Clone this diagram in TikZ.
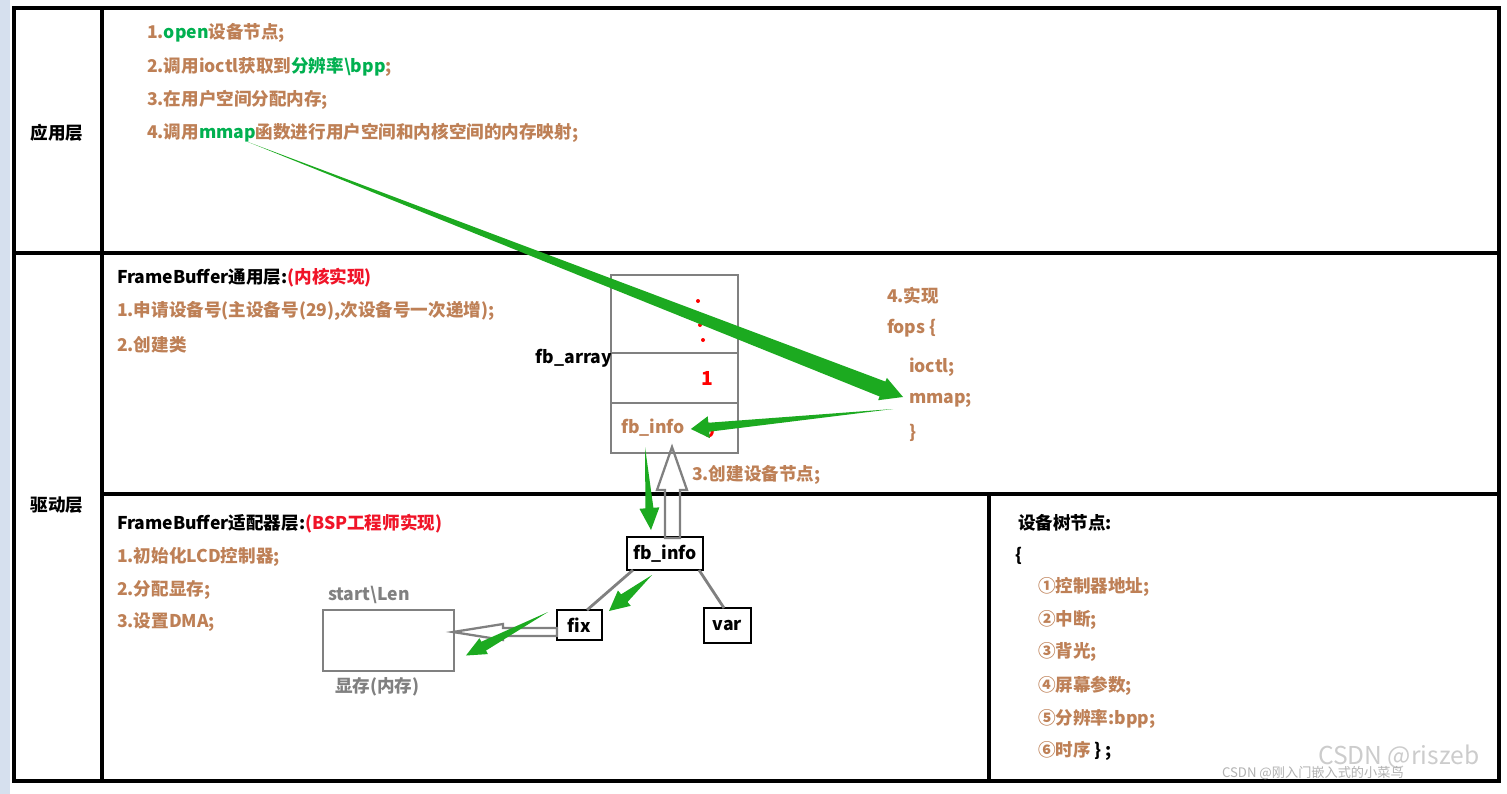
\documentclass[tikz,border=0pt]{standalone}
\usepackage{fontspec}
\setmainfont{Noto Sans CJK SC}
\usetikzlibrary{calc,positioning}

\definecolor{notebrown}{RGB}{190,128,86}
\definecolor{keygreen}{RGB}{0,176,80}
\definecolor{arrowgreen}{RGB}{28,170,32}
\definecolor{edgegray}{RGB}{128,128,128}
\definecolor{sidestrip}{RGB}{214,224,238}
\definecolor{hotred}{RGB}{240,20,40}

\newcommand\wedgearrow[5]{%
  \path ($(#2)!#3!(#1)$) coordinate (wedgebase);
  \fill[arrowgreen] (#1) -- ($(wedgebase)!#5!90:(#2)$) -- ($(wedgebase)!#4!90:(#2)$)
    -- (#2) -- ($(wedgebase)!#4!-90:(#2)$) -- ($(wedgebase)!#5!-90:(#2)$) -- cycle;}

\begin{document}
\begin{tikzpicture}[x=0.02cm, y=-0.02cm,
                    every node/.style={font=\bfseries\fontsize{10}{12}\selectfont, inner sep=0pt, outer sep=0pt},
                    note text/.style={anchor=west, text=notebrown},
                    black text/.style={anchor=west, text=black},
                    gray text/.style={anchor=west, text=edgegray},
                    frame line/.style={line width=2.3pt, line cap=rect},
                    cell box/.style={draw=edgegray, line width=0.6pt, minimum width=2.54cm},
                    info box/.style={draw=black, line width=0.8pt},
                    link line/.style={draw=edgegray, line width=1.6pt},
                    hollow arrow/.style={draw=edgegray, line width=1.3pt, line join=miter}]

  \useasboundingbox (0,0) rectangle (1507,794);
  \fill[white] (0,0) rectangle (1507,794);
  \fill[sidestrip] (0,0) rectangle (10,794);

  \draw[frame line] (14,8) rectangle (1499,781);
  \draw[frame line] (102,8) -- (102,781);
  \draw[frame line] (14,253) -- (1499,253);
  \draw[frame line] (102,494) -- (1499,494);
  \draw[frame line] (989,494) -- (989,781);

  \node (appLayer) at (57,133) {应用层};
  \node (drvLayer) at (57,505) {驱动层};

  \node[note text] (appA) at (147,33) {1.\textcolor{keygreen}{open}设备节点;};
  \node[note text] (appB) at (147,67) {2.调用ioctl获取到\textcolor{keygreen}{分辨率\textbackslash bpp};};
  \node[note text] (appC) at (147,100) {3.在用户空间分配内存;};
  \node[note text] (appD) at (147,133) {4.调用\textcolor{keygreen}{mmap}函数进行用户空间和内核空间的内存映射;};

  \node[black text] (coreHead) at (117,278) {FrameBuffer通用层:\textcolor{hotred}{(内核实现)}};
  \node[note text] (coreA) at (117,311) {1.申请设备号(主设备号(29),次设备号一次递增);};
  \node[note text] (coreB) at (117,345) {2.创建类};

  \node[cell box, minimum height=1.56cm] (cellTop) at (674.5,314) {};
  \node[cell box, minimum height=1cm, below=0pt of cellTop] (cellMid) {};
  \node[cell box, minimum height=1cm, below=0pt of cellMid] (cellLow) {};
  \node[black text, anchor=east] (arrayName) at (612,358) {fb\_array};
  \fill[red] (698,301) circle (0.04cm);
  \fill[red] (700,325) circle (0.04cm);
  \fill[red] (703,340) circle (0.04cm);
  \node[text=red, font=\bfseries\fontsize{11}{13}\selectfont] (slotOne) at (707,378) {1};
  \node[text=red, font=\bfseries\fontsize{11}{13}\selectfont] (slotZero) at (709,430) {0};
  \node[text=notebrown] (arrayInfo) at (653,428) {fb\_info};

  \node[note text] (fopsHead) at (887,296) {4.实现};
  \node[note text] (fopsOpen) at (887,328) {fops \{};
  \node[note text] (fopsIoctl) at (909,367) {ioctl;};
  \node[note text] (fopsMmap) at (909,400) {mmap;};
  \node[note text] (fopsClose) at (909,433) {\}};

  \node[note text] (nodeStep) at (692,475) {3.创建设备节点;};

  \node[black text] (bspHead) at (117,524) {FrameBuffer适配器层:\textcolor{hotred}{(BSP工程师实现)}};
  \node[note text] (bspA) at (117,557) {1.初始化LCD控制器;};
  \node[note text] (bspB) at (117,590) {2.分配显存;};
  \node[note text] (bspC) at (117,622) {3.设置DMA;};

  \node[info box, minimum width=1.52cm, minimum height=0.66cm] (infoBox) at (665,553.5) {fb\_info};
  \node[info box, minimum width=0.9cm, minimum height=0.6cm] (fixBox) at (579.5,625) {fix};
  \node[info box, minimum width=0.94cm, minimum height=0.7cm] (varBox) at (727.5,625.5) {var};

  \node[cell box, minimum width=2.62cm, minimum height=1.22cm] (vram) at (388.5,640.5) {};
  \node[gray text] (vramTop) at (328,595) {start\textbackslash Len};
  \node[gray text] (vramName) at (335,687) {显存(内存)};

  \node[black text] (treeHead) at (1018,523) {设备树节点:};
  \node[black text] (treeOpen) at (1015,556) {\{};
  \node[note text] (treeA) at (1038,587) {①控制器地址;};
  \node[note text] (treeB) at (1038,620) {②中断;};
  \node[note text] (treeC) at (1038,652) {③背光;};
  \node[note text] (treeD) at (1038,686) {④屏幕参数;};
  \node[note text] (treeE) at (1038,719) {⑤分辨率:bpp;};
  \node[note text] (treeF) at (1038,751) {⑥时序\textcolor{black}{\ \} ;}};

  \draw[link line] ([xshift=0.12cm]infoBox.south west) -- ([xshift=0.6cm]fixBox.north west);
  \draw[link line] ([xshift=-0.08cm]infoBox.south east) -- ([xshift=0.4cm]varBox.north west);

  \draw[hollow arrow] ($(infoBox.north)+(0,1)$) -- ++(0,-48) -- ++(-8,0) -- ++(15,-43)
        -- ++(15,43) -- ++(-7,0) -- ++(0,48) -- cycle;
  \draw[hollow arrow] ($(fixBox.west)+(0,3)$) -- ++(-54,0) -- ++(0,-4) -- ++(-50,8)
        -- ++(50,8) -- ++(0,-4) -- ++(54,0) -- cycle;

  \coordinate (mmapTail) at (248,142);
  \coordinate (mmapTip) at ($(fopsMmap.west)+(-6,-3)$);
  \coordinate (fopsTail) at (893,409);
  \coordinate (arrayTip) at ($(arrayInfo.east)+(6,1)$);
  \coordinate (arrayTail) at (645,447);
  \coordinate (boxTip) at ($(infoBox.north)+(-14,-7)$);
  \coordinate (infoTail) at (652,575);
  \coordinate (fixTip) at (609,611);
  \coordinate (fixTail) at (548,612);
  \coordinate (vramTip) at ($(vram.east)+(12,15)$);

  \wedgearrow{mmapTail}{mmapTip}{0.44cm}{0.24cm}{0.16cm}
  \wedgearrow{fopsTail}{arrayTip}{0.36cm}{0.22cm}{0.09cm}
  \wedgearrow{arrayTail}{boxTip}{0.44cm}{0.2cm}{0.08cm}
  \wedgearrow{infoTail}{fixTip}{0.4cm}{0.2cm}{0.1cm}
  \wedgearrow{fixTail}{vramTip}{0.4cm}{0.18cm}{0.1cm}

  \node[anchor=west, text=black!20, font=\fontsize{14}{16}\selectfont] (markBig) at (1318,757) {CSDN @riszeb};
  \node[anchor=west, text=black!30, font=\fontsize{7.5}{9}\selectfont] (markSmall) at (1222,773) {CSDN @刚入门嵌入式的小菜鸟};

\end{tikzpicture}
\end{document}
